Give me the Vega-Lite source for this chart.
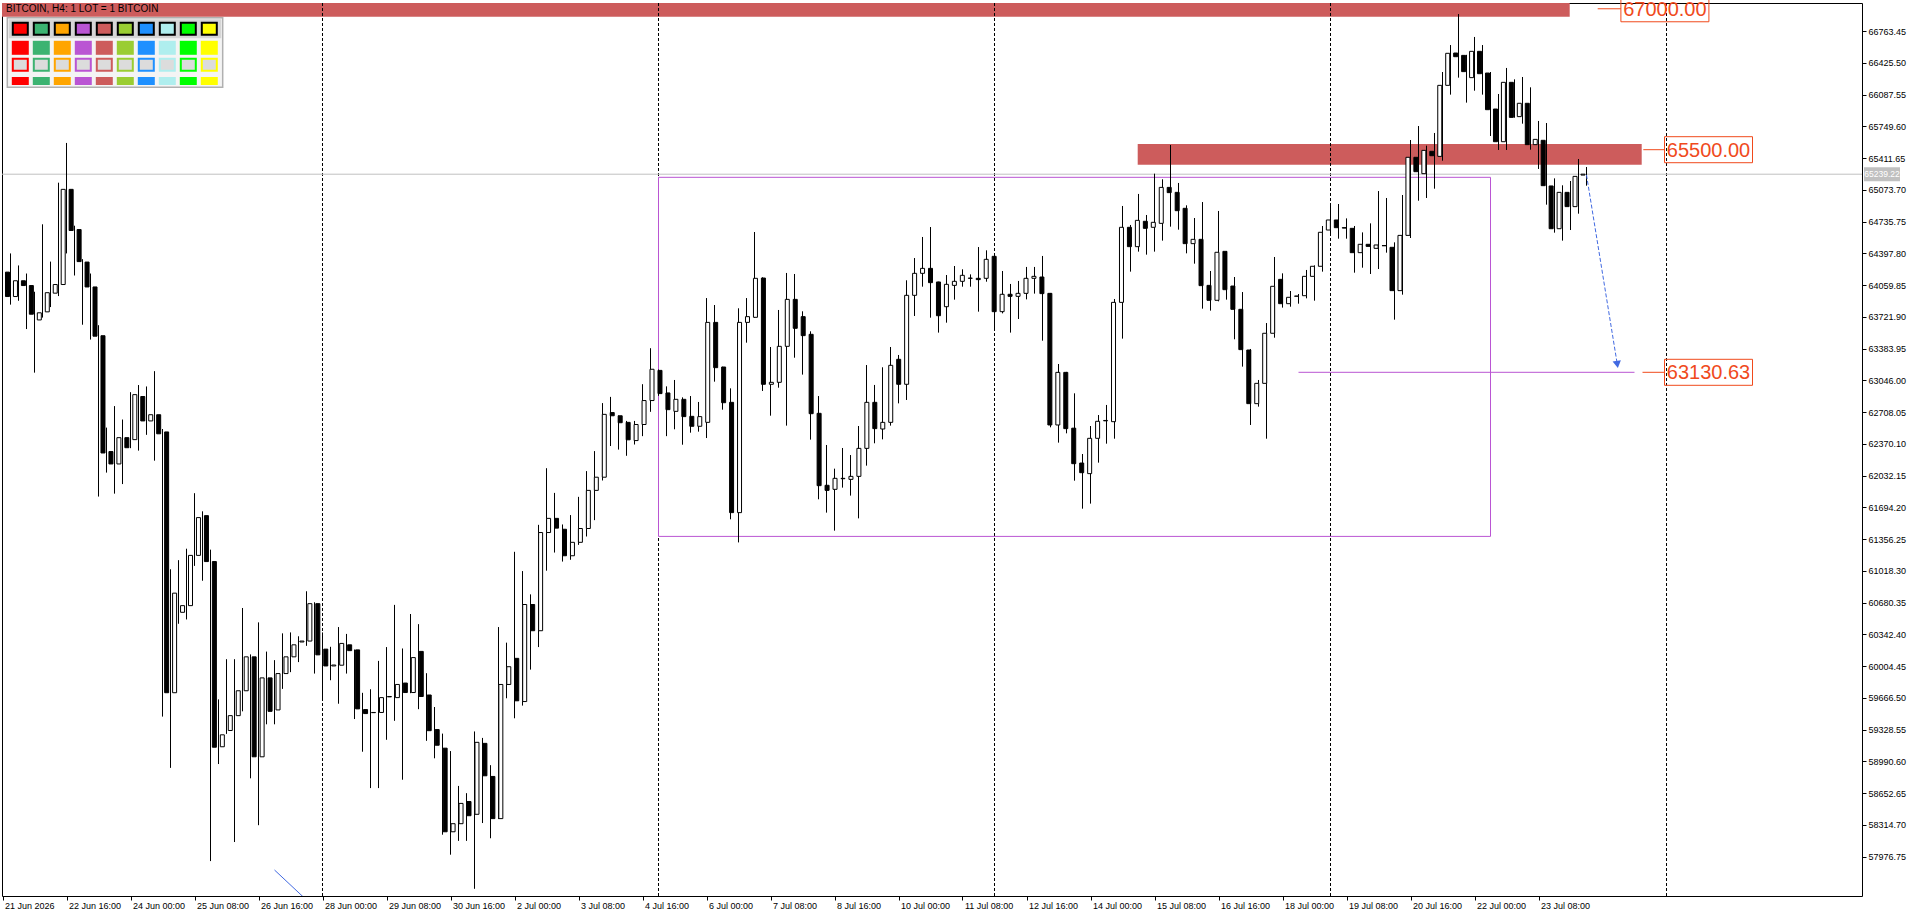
{
  "$schema": "https://vega.github.io/schema/vega-lite/v6.json",
  "width": 1860,
  "height": 893,
  "autosize": {"type": "none"},
  "padding": {"left": 2, "top": 3, "right": 58, "bottom": 19},
  "background": "#ffffff",
  "config": {
    "view": {"stroke": "#000000", "strokeWidth": 1},
    "font": "Liberation Sans"
  },
  "datasets": {
    "candles": [
      {"i":0,"o":64197,"h":64233,"l":63902,"c":63937},
      {"i":1,"o":63937,"h":64396,"l":63851,"c":64105},
      {"i":2,"o":64105,"h":64268,"l":63892,"c":64054},
      {"i":3,"o":64054,"h":64182,"l":63591,"c":63749},
      {"i":4,"o":63688,"h":63988,"l":63127,"c":63764},
      {"i":5,"o":63774,"h":64706,"l":63713,"c":63978},
      {"i":6,"o":63973,"h":64309,"l":63825,"c":64065},
      {"i":7,"o":64065,"h":65149,"l":63942,"c":65078},
      {"i":8,"o":65078,"h":65572,"l":64396,"c":64640},
      {"i":9,"o":64650,"h":64691,"l":64161,"c":64309},
      {"i":10,"o":64304,"h":64335,"l":63637,"c":64039},
      {"i":11,"o":64039,"h":64182,"l":63479,"c":63515},
      {"i":12,"o":63520,"h":63632,"l":61808,"c":62272},
      {"i":13,"o":62287,"h":62542,"l":62063,"c":62155},
      {"i":14,"o":62155,"h":62771,"l":61839,"c":62435},
      {"i":15,"o":62435,"h":62628,"l":61941,"c":62328},
      {"i":16,"o":62414,"h":62919,"l":62323,"c":62893},
      {"i":17,"o":62873,"h":62995,"l":62297,"c":62613},
      {"i":18,"o":62613,"h":62980,"l":62465,"c":62679},
      {"i":19,"o":62679,"h":63143,"l":62190,"c":62476},
      {"i":20,"o":62496,"h":62527,"l":59466,"c":59720},
      {"i":21,"o":59720,"h":61034,"l":58920,"c":60780},
      {"i":22,"o":60576,"h":61131,"l":60454,"c":60647},
      {"i":23,"o":60647,"h":61253,"l":60500,"c":61182},
      {"i":24,"o":61182,"h":61844,"l":61070,"c":61584},
      {"i":25,"o":61605,"h":61651,"l":60912,"c":61116},
      {"i":26,"o":61116,"h":61243,"l":57928,"c":59140},
      {"i":27,"o":59145,"h":59649,"l":58961,"c":59272},
      {"i":28,"o":59318,"h":60077,"l":59282,"c":59476},
      {"i":29,"o":59476,"h":60077,"l":58131,"c":59741},
      {"i":30,"o":59741,"h":60622,"l":59522,"c":60102},
      {"i":31,"o":60102,"h":60128,"l":58809,"c":59038},
      {"i":32,"o":59038,"h":60469,"l":58310,"c":59878},
      {"i":33,"o":59878,"h":60158,"l":59384,"c":59522},
      {"i":34,"o":59537,"h":60067,"l":59384,"c":59924},
      {"i":35,"o":59924,"h":60352,"l":59761,"c":60102},
      {"i":36,"o":60102,"h":60362,"l":59939,"c":60230},
      {"i":37,"o":60260,"h":60321,"l":60046,"c":60270},
      {"i":38,"o":60270,"h":60800,"l":60219,"c":60668},
      {"i":39,"o":60668,"h":60683,"l":59924,"c":60123},
      {"i":40,"o":60184,"h":60362,"l":59634,"c":60005},
      {"i":41,"o":60005,"h":60209,"l":59853,"c":60015},
      {"i":42,"o":60013,"h":60419,"l":59603,"c":60245},
      {"i":43,"o":60230,"h":60346,"l":59924,"c":60168},
      {"i":44,"o":60176,"h":60180,"l":59440,"c":59548},
      {"i":45,"o":59541,"h":59719,"l":59092,"c":59498},
      {"i":46,"o":59510,"h":59757,"l":58705,"c":59508},
      {"i":47,"o":59510,"h":60059,"l":58705,"c":59668},
      {"i":48,"o":59676,"h":60206,"l":59219,"c":59680},
      {"i":49,"o":59668,"h":60655,"l":59421,"c":59808},
      {"i":50,"o":59823,"h":60191,"l":58794,"c":59722},
      {"i":51,"o":59722,"h":60558,"l":59715,"c":60094},
      {"i":52,"o":60160,"h":60450,"l":59545,"c":59680},
      {"i":53,"o":59696,"h":59928,"l":59208,"c":59316},
      {"i":54,"o":59328,"h":59568,"l":59022,"c":59161},
      {"i":55,"o":59130,"h":59285,"l":58209,"c":58240},
      {"i":56,"o":58240,"h":59099,"l":57996,"c":58326},
      {"i":57,"o":58326,"h":58728,"l":58143,"c":58542},
      {"i":58,"o":58562,"h":58651,"l":58143,"c":58411},
      {"i":59,"o":58426,"h":59308,"l":57633,"c":59192},
      {"i":60,"o":59181,"h":59239,"l":58333,"c":58836},
      {"i":61,"o":58829,"h":58949,"l":58171,"c":58380},
      {"i":62,"o":58380,"h":60419,"l":58375,"c":59808},
      {"i":63,"o":59808,"h":60253,"l":59661,"c":59997},
      {"i":64,"o":60086,"h":61220,"l":59448,"c":59634},
      {"i":65,"o":59626,"h":61015,"l":59583,"c":60659},
      {"i":66,"o":60659,"h":60767,"l":59966,"c":60380},
      {"i":67,"o":60380,"h":61507,"l":60206,"c":61425},
      {"i":68,"o":61425,"h":62110,"l":61019,"c":61576},
      {"i":69,"o":61576,"h":61847,"l":61212,"c":61472},
      {"i":70,"o":61460,"h":61511,"l":61116,"c":61178},
      {"i":71,"o":61178,"h":61611,"l":61135,"c":61321},
      {"i":72,"o":61321,"h":61805,"l":61294,"c":61468},
      {"i":73,"o":61468,"h":62079,"l":61383,"c":61874},
      {"i":74,"o":61874,"h":62292,"l":61557,"c":62014},
      {"i":75,"o":62014,"h":62803,"l":61979,"c":62683},
      {"i":76,"o":62702,"h":62869,"l":62346,"c":62668},
      {"i":77,"o":62668,"h":62670,"l":62308,"c":62594},
      {"i":78,"o":62598,"h":62613,"l":62242,"c":62412},
      {"i":79,"o":62404,"h":62613,"l":62362,"c":62575},
      {"i":80,"o":62575,"h":63004,"l":62451,"c":62830},
      {"i":81,"o":62830,"h":63387,"l":62710,"c":63163},
      {"i":82,"o":63151,"h":63160,"l":62880,"c":62904},
      {"i":83,"o":62911,"h":62981,"l":62451,"c":62733},
      {"i":84,"o":62715,"h":63049,"l":62524,"c":62843},
      {"i":85,"o":62843,"h":62864,"l":62360,"c":62659},
      {"i":86,"o":62662,"h":62878,"l":62488,"c":62556},
      {"i":87,"o":62556,"h":62815,"l":62499,"c":62659},
      {"i":88,"o":62598,"h":63921,"l":62431,"c":63662},
      {"i":89,"o":63662,"h":63847,"l":63031,"c":63180},
      {"i":90,"o":63187,"h":63190,"l":62733,"c":62807},
      {"i":91,"o":62811,"h":62960,"l":61566,"c":61637},
      {"i":92,"o":61637,"h":63812,"l":61320,"c":63662},
      {"i":93,"o":63662,"h":63921,"l":63446,"c":63723},
      {"i":94,"o":63716,"h":64624,"l":63710,"c":64131},
      {"i":95,"o":64134,"h":64142,"l":62932,"c":63003},
      {"i":96,"o":63003,"h":63400,"l":62669,"c":63024},
      {"i":97,"o":63024,"h":63794,"l":62967,"c":63407},
      {"i":98,"o":63407,"h":64188,"l":62563,"c":63907},
      {"i":99,"o":63907,"h":64177,"l":63286,"c":63599},
      {"i":100,"o":63723,"h":63780,"l":63106,"c":63521},
      {"i":101,"o":63535,"h":63567,"l":62414,"c":62690},
      {"i":102,"o":62694,"h":62878,"l":61779,"c":61924},
      {"i":103,"o":61928,"h":62357,"l":61637,"c":61874},
      {"i":104,"o":61885,"h":62105,"l":61445,"c":62002},
      {"i":105,"o":61998,"h":62325,"l":61903,"c":62002},
      {"i":106,"o":61991,"h":62250,"l":61818,"c":62023},
      {"i":107,"o":62023,"h":62559,"l":61576,"c":62321},
      {"i":108,"o":62321,"h":63208,"l":62137,"c":62811},
      {"i":109,"o":62811,"h":62996,"l":62375,"c":62531},
      {"i":110,"o":62527,"h":63184,"l":62417,"c":62598},
      {"i":111,"o":62598,"h":63400,"l":62563,"c":63205},
      {"i":112,"o":63269,"h":63315,"l":62800,"c":63003},
      {"i":113,"o":63003,"h":64110,"l":62836,"c":63950},
      {"i":114,"o":63950,"h":64347,"l":63730,"c":64184},
      {"i":115,"o":64184,"h":64571,"l":64042,"c":64237},
      {"i":116,"o":64237,"h":64677,"l":63712,"c":64085},
      {"i":117,"o":64092,"h":64095,"l":63553,"c":63733},
      {"i":118,"o":63829,"h":64166,"l":63659,"c":64067},
      {"i":119,"o":64056,"h":64262,"l":63904,"c":64099},
      {"i":120,"o":64099,"h":64227,"l":64042,"c":64163},
      {"i":121,"o":64131,"h":64173,"l":64042,"c":64133},
      {"i":122,"o":64131,"h":64464,"l":63776,"c":64117},
      {"i":123,"o":64131,"h":64429,"l":64095,"c":64333},
      {"i":124,"o":64365,"h":64370,"l":63599,"c":63776},
      {"i":125,"o":63776,"h":64209,"l":63758,"c":63961},
      {"i":126,"o":63961,"h":64071,"l":63553,"c":63939},
      {"i":127,"o":63939,"h":64103,"l":63698,"c":63971},
      {"i":128,"o":63971,"h":64252,"l":63907,"c":64131},
      {"i":129,"o":64131,"h":64252,"l":63968,"c":64152},
      {"i":130,"o":64145,"h":64369,"l":63467,"c":63968},
      {"i":131,"o":63971,"h":63975,"l":62545,"c":62570},
      {"i":132,"o":62570,"h":63219,"l":62382,"c":63130},
      {"i":133,"o":63130,"h":63135,"l":62481,"c":62531},
      {"i":134,"o":62536,"h":62907,"l":61977,"c":62158},
      {"i":135,"o":62165,"h":62261,"l":61679,"c":62062},
      {"i":136,"o":62052,"h":62559,"l":61733,"c":62428},
      {"i":137,"o":62428,"h":62676,"l":62169,"c":62609},
      {"i":138,"o":62614,"h":62783,"l":62371,"c":62618},
      {"i":139,"o":62605,"h":63911,"l":62424,"c":63875},
      {"i":140,"o":63875,"h":64901,"l":63489,"c":64674},
      {"i":141,"o":64674,"h":64699,"l":64202,"c":64468},
      {"i":142,"o":64468,"h":65029,"l":64415,"c":64748},
      {"i":143,"o":64738,"h":64805,"l":64383,"c":64663},
      {"i":144,"o":64674,"h":65245,"l":64415,"c":64727},
      {"i":145,"o":64716,"h":65185,"l":64532,"c":65099},
      {"i":146,"o":65099,"h":65550,"l":64681,"c":65043},
      {"i":147,"o":65046,"h":65146,"l":64649,"c":64851},
      {"i":148,"o":64876,"h":64908,"l":64397,"c":64500},
      {"i":149,"o":64500,"h":64773,"l":64287,"c":64546},
      {"i":150,"o":64546,"h":64943,"l":63808,"c":64053},
      {"i":151,"o":64056,"h":64209,"l":63787,"c":63897},
      {"i":152,"o":63897,"h":64848,"l":63886,"c":64408},
      {"i":153,"o":64418,"h":64420,"l":63904,"c":64010},
      {"i":154,"o":64049,"h":64145,"l":63482,"c":63801},
      {"i":155,"o":63801,"h":63985,"l":63191,"c":63372},
      {"i":156,"o":63368,"h":63379,"l":62570,"c":62797},
      {"i":157,"o":62797,"h":63049,"l":62765,"c":63013},
      {"i":158,"o":63013,"h":63655,"l":62424,"c":63546},
      {"i":159,"o":63546,"h":64358,"l":63499,"c":64046},
      {"i":160,"o":64120,"h":64184,"l":63819,"c":63861},
      {"i":161,"o":63861,"h":63996,"l":63829,"c":63929},
      {"i":162,"o":63940,"h":63964,"l":63861,"c":63942},
      {"i":163,"o":63946,"h":64220,"l":63918,"c":64152},
      {"i":164,"o":64152,"h":64269,"l":63893,"c":64259},
      {"i":165,"o":64259,"h":64688,"l":64202,"c":64621},
      {"i":166,"o":64645,"h":64901,"l":64600,"c":64752},
      {"i":167,"o":64752,"h":64922,"l":64553,"c":64670},
      {"i":168,"o":64670,"h":64769,"l":64553,"c":64666},
      {"i":169,"o":64663,"h":64688,"l":64191,"c":64404},
      {"i":170,"o":64404,"h":64620,"l":64244,"c":64493},
      {"i":171,"o":64493,"h":64716,"l":64177,"c":64471},
      {"i":172,"o":64450,"h":65060,"l":64230,"c":64486},
      {"i":173,"o":64478,"h":64986,"l":64404,"c":64479},
      {"i":174,"o":64461,"h":64514,"l":63691,"c":64000},
      {"i":175,"o":64000,"h":65018,"l":63957,"c":64588},
      {"i":176,"o":64588,"h":65603,"l":64560,"c":65419},
      {"i":177,"o":65419,"h":65752,"l":64957,"c":65266},
      {"i":178,"o":65245,"h":65543,"l":64986,"c":65493},
      {"i":179,"o":65483,"h":65678,"l":65085,"c":65436},
      {"i":180,"o":65429,"h":66327,"l":65383,"c":66185},
      {"i":181,"o":66185,"h":66614,"l":66086,"c":66526},
      {"i":182,"o":66529,"h":66944,"l":66267,"c":66490},
      {"i":183,"o":66504,"h":66510,"l":66001,"c":66331},
      {"i":184,"o":66267,"h":66700,"l":66128,"c":66547},
      {"i":185,"o":66547,"h":66614,"l":66086,"c":66309},
      {"i":186,"o":66316,"h":66327,"l":65646,"c":65926},
      {"i":187,"o":65933,"h":66093,"l":65497,"c":65585},
      {"i":188,"o":65585,"h":66370,"l":65497,"c":66217},
      {"i":189,"o":66217,"h":66249,"l":65840,"c":65844},
      {"i":190,"o":65852,"h":66274,"l":65777,"c":65994},
      {"i":191,"o":65994,"h":66164,"l":65500,"c":65554},
      {"i":192,"o":65554,"h":65806,"l":65295,"c":65610},
      {"i":193,"o":65600,"h":65784,"l":64915,"c":65117},
      {"i":194,"o":65114,"h":65195,"l":64617,"c":64659},
      {"i":195,"o":64659,"h":65121,"l":64532,"c":65046},
      {"i":196,"o":65046,"h":65167,"l":64645,"c":64894},
      {"i":197,"o":64894,"h":65401,"l":64819,"c":65216},
      {"i":198,"o":65230,"h":65316,"l":65117,"c":65239.22}
    ],
    "zones": [
      {"kind":"band","i":-0.0625,"i2":195.9,"lo":66916,"hi":67061.5},
      {"kind":"band","i":141.9,"i2":204.9,"lo":65340,"hi":65561},
      {"kind":"box","i":82,"i2":186,"lo":61384,"hi":65206}
    ],
    "separators": [{"i":40},{"i":82},{"i":124},{"i":166},{"i":208}],
    "lines": [
      {"kind":"target","i":162,"i2":204,"p":63130.63,"p2":63130.63},
      {"kind":"arrow","i":198.0,"i2":201.85,"p":65231,"p2":63215},
      {"kind":"trend","i":34.0,"i2":37.8,"p":57833,"p2":57530}
    ],
    "levels": [
      {"label":"67000.00","p":67000,"a":199.4,"b":202.3,"c":207.8},
      {"label":"65500.00","p":65500,"a":205.1,"b":207.8,"c":213.25},
      {"label":"63130.63","p":63130.63,"a":205.0,"b":207.7,"c":213.25}
    ],
    "last": [{"p":65239.22,"label":"65239.22"}],
    "caption": [{"text":"BITCOIN, H4:  1 LOT = 1 BITCOIN"}],
    "palette": [
      {"k":0,"name":"Red"},
      {"k":1,"name":"MediumSeaGreen"},
      {"k":2,"name":"Orange"},
      {"k":3,"name":"MediumOrchid"},
      {"k":4,"name":"IndianRed"},
      {"k":5,"name":"YellowGreen"},
      {"k":6,"name":"DodgerBlue"},
      {"k":7,"name":"PaleTurquoise"},
      {"k":8,"name":"Lime"},
      {"k":9,"name":"Yellow"}
    ]
  },
  "layer": [
    {
      "data": {"name": "zones"},
      "transform": [{"filter": "datum.kind == 'band'"}],
      "mark": {"type": "rect", "fill": "#cd5c5c"},
      "encoding": {
        "x": {"field": "i", "type": "quantitative", "scale": {"domain": [-0.0625, 232.4375], "nice": false, "zero": false}, "axis": null},
        "x2": {"field": "i2"},
        "y": {"field": "lo", "type": "quantitative", "scale": {"domain": [57556.4, 67061.5], "nice": false, "zero": false}, "axis": null},
        "y2": {"field": "hi"}
      }
    },
    {
      "data": {"name": "separators"},
      "mark": {"type": "rule", "color": "#000000", "strokeWidth": 1, "strokeDash": [3, 2]},
      "encoding": {
        "x": {"field": "i", "type": "quantitative", "scale": {"domain": [-0.0625, 232.4375], "nice": false, "zero": false}, "axis": null}
      }
    },
    {
      "data": {"name": "last"},
      "mark": {"type": "rule", "color": "#c0c0c0", "strokeWidth": 1},
      "encoding": {
        "y": {"field": "p", "type": "quantitative", "scale": {"domain": [57556.4, 67061.5], "nice": false, "zero": false}, "axis": null}
      }
    },
    {
      "data": {"name": "zones"},
      "transform": [{"filter": "datum.kind == 'box'"}],
      "mark": {"type": "rect", "fill": null, "fillOpacity": 0, "stroke": "#ba55d3", "strokeWidth": 1},
      "encoding": {
        "x": {"field": "i", "type": "quantitative", "scale": {"domain": [-0.0625, 232.4375], "nice": false, "zero": false}, "axis": null},
        "x2": {"field": "i2"},
        "y": {"field": "lo", "type": "quantitative", "scale": {"domain": [57556.4, 67061.5], "nice": false, "zero": false}, "axis": null},
        "y2": {"field": "hi"}
      }
    },
    {
      "data": {"name": "lines"},
      "transform": [{"filter": "datum.kind == 'target'"}],
      "mark": {"type": "rule", "color": "#ba55d3", "strokeWidth": 1},
      "encoding": {
        "x": {"field": "i", "type": "quantitative", "scale": {"domain": [-0.0625, 232.4375], "nice": false, "zero": false}, "axis": null},
        "x2": {"field": "i2"},
        "y": {"field": "p", "type": "quantitative", "scale": {"domain": [57556.4, 67061.5], "nice": false, "zero": false}, "axis": null},
        "y2": {"field": "p2"}
      }
    },
    {
      "data": {"name": "lines"},
      "transform": [{"filter": "datum.kind == 'trend'"}],
      "mark": {"type": "rule", "color": "#4169e1", "strokeWidth": 1, "clip": true},
      "encoding": {
        "x": {"field": "i", "type": "quantitative", "scale": {"domain": [-0.0625, 232.4375], "nice": false, "zero": false}, "axis": null},
        "x2": {"field": "i2"},
        "y": {"field": "p", "type": "quantitative", "scale": {"domain": [57556.4, 67061.5], "nice": false, "zero": false}, "axis": null},
        "y2": {"field": "p2"}
      }
    },
    {
      "data": {"name": "candles"},
      "mark": {"type": "rule", "color": "#000000", "strokeWidth": 1},
      "encoding": {
        "x": {
          "field": "i",
          "type": "quantitative",
          "scale": {"domain": [-0.0625, 232.4375], "nice": false, "zero": false},
          "axis": {
            "title": null,
            "orient": "bottom",
            "values": [0, 8, 16, 24, 32, 40, 48, 56, 64, 72, 80, 88, 96, 104, 112, 120, 128, 136, 144, 152, 160, 168, 176, 184, 192],
            "labelExpr": "['21 Jun 2026','22 Jun 16:00','24 Jun 00:00','25 Jun 08:00','26 Jun 16:00','28 Jun 00:00','29 Jun 08:00','30 Jun 16:00','2 Jul 00:00','3 Jul 08:00','4 Jul 16:00','6 Jul 00:00','7 Jul 08:00','8 Jul 16:00','10 Jul 00:00','11 Jul 08:00','12 Jul 16:00','14 Jul 00:00','15 Jul 08:00','16 Jul 16:00','18 Jul 00:00','19 Jul 08:00','20 Jul 16:00','22 Jul 00:00','23 Jul 08:00'][round(datum.value / 8)]",
            "grid": false,
            "domain": false,
            "ticks": true,
            "tickSize": 4,
            "tickColor": "#000000",
            "labelAlign": "left",
            "labelBaseline": "top",
            "labelOffset": 2,
            "labelPadding": 1,
            "labelFont": "Liberation Sans",
            "labelFontSize": 9,
            "labelColor": "#000000",
            "labelOverlap": false,
            "labelFlush": false,
            "labelBound": false
          }
        },
        "y": {
          "field": "l",
          "type": "quantitative",
          "scale": {"domain": [57556.4, 67061.5], "nice": false, "zero": false},
          "axis": {
            "title": null,
            "orient": "right",
            "values": [57976.75, 58314.70, 58652.65, 58990.60, 59328.55, 59666.50, 60004.45, 60342.40, 60680.35, 61018.30, 61356.25, 61694.20, 62032.15, 62370.10, 62708.05, 63046.00, 63383.95, 63721.90, 64059.85, 64397.80, 64735.75, 65073.70, 65411.65, 65749.60, 66087.55, 66425.50, 66763.45],
            "format": ".2f",
            "grid": false,
            "domain": false,
            "tickSize": 4,
            "tickColor": "#000000",
            "labelPadding": 2,
            "labelFont": "Liberation Sans",
            "labelFontSize": 9,
            "labelColor": "#000000",
            "labelOverlap": false,
            "labelFlush": false,
            "labelBound": false
          }
        },
        "y2": {"field": "h"}
      }
    },
    {
      "data": {"name": "candles"},
      "mark": {"type": "bar", "size": 4, "stroke": "#000000", "strokeWidth": 1},
      "encoding": {
        "x": {"field": "i", "type": "quantitative", "scale": {"domain": [-0.0625, 232.4375], "nice": false, "zero": false}, "axis": null},
        "y": {"field": "o", "type": "quantitative", "scale": {"domain": [57556.4, 67061.5], "nice": false, "zero": false}, "axis": null},
        "y2": {"field": "c"},
        "fill": {"condition": {"test": "datum.c >= datum.o", "value": "#ffffff"}, "value": "#000000"}
      }
    },
    {
      "data": {"name": "lines"},
      "transform": [{"filter": "datum.kind == 'arrow'"}],
      "mark": {"type": "rule", "color": "#4169e1", "strokeWidth": 1, "strokeDash": [4, 2]},
      "encoding": {
        "x": {"field": "i", "type": "quantitative", "scale": {"domain": [-0.0625, 232.4375], "nice": false, "zero": false}, "axis": null},
        "x2": {"field": "i2"},
        "y": {"field": "p", "type": "quantitative", "scale": {"domain": [57556.4, 67061.5], "nice": false, "zero": false}, "axis": null},
        "y2": {"field": "p2"}
      }
    },
    {
      "data": {"name": "lines"},
      "transform": [{"filter": "datum.kind == 'arrow'"}],
      "mark": {"type": "point", "shape": "triangle-down", "filled": true, "color": "#4169e1", "size": 70, "angle": 351, "opacity": 1},
      "encoding": {
        "x": {"field": "i2", "type": "quantitative", "scale": {"domain": [-0.0625, 232.4375], "nice": false, "zero": false}, "axis": null},
        "y": {"field": "p2", "type": "quantitative", "scale": {"domain": [57556.4, 67061.5], "nice": false, "zero": false}, "axis": null}
      }
    },
    {
      "data": {"name": "levels"},
      "mark": {"type": "rule", "color": "#f04a1c", "strokeWidth": 1},
      "encoding": {
        "x": {"field": "a", "type": "quantitative", "scale": {"domain": [-0.0625, 232.4375], "nice": false, "zero": false}, "axis": null},
        "x2": {"field": "b"},
        "y": {"field": "p", "type": "quantitative", "scale": {"domain": [57556.4, 67061.5], "nice": false, "zero": false}, "axis": null}
      }
    },
    {
      "data": {"name": "levels"},
      "mark": {"type": "point", "shape": "M-1,-0.2955H1V0.2955H-1Z", "size": 7744, "filled": false, "fill": null, "stroke": "#f04a1c", "strokeWidth": 1, "opacity": 1},
      "encoding": {
        "x": {"field": "c", "type": "quantitative", "scale": {"domain": [-0.0625, 232.4375], "nice": false, "zero": false}, "axis": null},
        "y": {"field": "p", "type": "quantitative", "scale": {"domain": [57556.4, 67061.5], "nice": false, "zero": false}, "axis": null}
      }
    },
    {
      "data": {"name": "levels"},
      "mark": {"type": "text", "align": "center", "baseline": "middle", "font": "Liberation Sans", "fontSize": 20, "color": "#f04a1c", "dy": 1},
      "encoding": {
        "x": {"field": "c", "type": "quantitative", "scale": {"domain": [-0.0625, 232.4375], "nice": false, "zero": false}, "axis": null},
        "y": {"field": "p", "type": "quantitative", "scale": {"domain": [57556.4, 67061.5], "nice": false, "zero": false}, "axis": null},
        "text": {"field": "label"}
      }
    },
    {
      "data": {"name": "caption"},
      "mark": {"type": "text", "align": "left", "baseline": "middle", "font": "Liberation Sans", "fontSize": 10, "color": "#000000", "dx": 4, "dy": 6},
      "encoding": {
        "x": {"datum": -0.0625, "type": "quantitative", "scale": {"domain": [-0.0625, 232.4375], "nice": false, "zero": false}, "axis": null},
        "y": {"datum": 67061.5, "type": "quantitative", "scale": {"domain": [57556.4, 67061.5], "nice": false, "zero": false}, "axis": null},
        "text": {"field": "text"}
      }
    },
    {
      "data": {"name": "last"},
      "mark": {"type": "point", "shape": "M-1,-0.3889H1V0.3889H-1Z", "size": 1296, "filled": true, "color": "#c0c0c0", "opacity": 1, "xOffset": 20},
      "encoding": {
        "x": {"value": "width"},
        "y": {"field": "p", "type": "quantitative", "scale": {"domain": [57556.4, 67061.5], "nice": false, "zero": false}, "axis": null}
      }
    },
    {
      "data": {"name": "last"},
      "mark": {"type": "text", "align": "center", "baseline": "middle", "font": "Liberation Sans", "fontSize": 8.5, "color": "#ffffff", "xOffset": 20},
      "encoding": {
        "x": {"value": "width"},
        "y": {"field": "p", "type": "quantitative", "scale": {"domain": [57556.4, 67061.5], "nice": false, "zero": false}, "axis": null},
        "text": {"field": "label"}
      }
    },
    {
      "data": {"name": "palette"},
      "transform": [{"filter": "datum.k == 0"}],
      "mark": {"type": "rect", "fill": "#f4f4f4", "stroke": "#b0b0b0", "strokeWidth": 1.5},
      "encoding": {
        "x": {"datum": -0.619, "type": "quantitative", "scale": {"domain": [-0.8714, 87.7], "nice": false, "zero": false}, "axis": null},
        "x2": {"datum": 9.638},
        "y": {"datum": 0.817, "type": "quantitative", "scale": {"domain": [0, 49.611], "reverse": true, "nice": false, "zero": false}, "axis": null},
        "y2": {"datum": 4.683}
      }
    },
    {
      "data": {"name": "palette"},
      "transform": [{"filter": "datum.k == 0"}],
      "mark": {"type": "rect", "fill": "#d6d6d6"},
      "encoding": {
        "x": {"datum": -0.55, "type": "quantitative", "scale": {"domain": [-0.8714, 87.7], "nice": false, "zero": false}, "axis": null},
        "x2": {"datum": 9.57},
        "y": {"datum": 0.906, "type": "quantitative", "scale": {"domain": [0, 49.611], "reverse": true, "nice": false, "zero": false}, "axis": null},
        "y2": {"datum": 1.961}
      }
    },
    {
      "data": {"name": "palette"},
      "mark": {"type": "point", "shape": "M-1,-0.8H1V0.8H-1Z", "size": 225, "filled": true, "stroke": "#000000", "strokeWidth": 2, "opacity": 1},
      "encoding": {
        "x": {"field": "k", "type": "quantitative", "scale": {"domain": [-0.8714, 87.7], "nice": false, "zero": false}, "axis": null},
        "y": {"datum": 1.428, "type": "quantitative", "scale": {"domain": [0, 49.611], "reverse": true, "nice": false, "zero": false}, "axis": null},
        "fill": {"field": "name", "type": "nominal", "legend": null, "scale": {"domain": ["Red","MediumSeaGreen","Orange","MediumOrchid","IndianRed","YellowGreen","DodgerBlue","PaleTurquoise","Lime","Yellow"], "range": ["#ff0000","#3cb371","#ffa500","#ba55d3","#cd5c5c","#9acd32","#1e90ff","#afeeee","#00ff00","#ffff00"]}}
      }
    },
    {
      "data": {"name": "palette"},
      "mark": {"type": "point", "shape": "M-1,-0.8235H1V0.8235H-1Z", "size": 289, "filled": true, "opacity": 1},
      "encoding": {
        "x": {"field": "k", "type": "quantitative", "scale": {"domain": [-0.8714, 87.7], "nice": false, "zero": false}, "axis": null},
        "y": {"datum": 2.489, "type": "quantitative", "scale": {"domain": [0, 49.611], "reverse": true, "nice": false, "zero": false}, "axis": null},
        "fill": {"field": "name", "type": "nominal", "legend": null, "scale": {"domain": ["Red","MediumSeaGreen","Orange","MediumOrchid","IndianRed","YellowGreen","DodgerBlue","PaleTurquoise","Lime","Yellow"], "range": ["#ff0000","#3cb371","#ffa500","#ba55d3","#cd5c5c","#9acd32","#1e90ff","#afeeee","#00ff00","#ffff00"]}}
      }
    },
    {
      "data": {"name": "palette"},
      "mark": {"type": "point", "shape": "M-1,-0.8H1V0.8H-1Z", "size": 225, "filled": true, "fill": "#dcdcdc", "strokeWidth": 2, "opacity": 1},
      "encoding": {
        "x": {"field": "k", "type": "quantitative", "scale": {"domain": [-0.8714, 87.7], "nice": false, "zero": false}, "axis": null},
        "y": {"datum": 3.428, "type": "quantitative", "scale": {"domain": [0, 49.611], "reverse": true, "nice": false, "zero": false}, "axis": null},
        "stroke": {"field": "name", "type": "nominal", "legend": null, "scale": {"domain": ["Red","MediumSeaGreen","Orange","MediumOrchid","IndianRed","YellowGreen","DodgerBlue","PaleTurquoise","Lime","Yellow"], "range": ["#ff0000","#3cb371","#ffa500","#ba55d3","#cd5c5c","#9acd32","#1e90ff","#afeeee","#00ff00","#ffff00"]}}
      }
    },
    {
      "data": {"name": "palette"},
      "mark": {"type": "point", "shape": "M-1,-0.47H1V0.47H-1Z", "size": 289, "filled": true, "opacity": 1},
      "encoding": {
        "x": {"field": "k", "type": "quantitative", "scale": {"domain": [-0.8714, 87.7], "nice": false, "zero": false}, "axis": null},
        "y": {"datum": 4.333, "type": "quantitative", "scale": {"domain": [0, 49.611], "reverse": true, "nice": false, "zero": false}, "axis": null},
        "fill": {"field": "name", "type": "nominal", "legend": null, "scale": {"domain": ["Red","MediumSeaGreen","Orange","MediumOrchid","IndianRed","YellowGreen","DodgerBlue","PaleTurquoise","Lime","Yellow"], "range": ["#ff0000","#3cb371","#ffa500","#ba55d3","#cd5c5c","#9acd32","#1e90ff","#afeeee","#00ff00","#ffff00"]}}
      }
    }
  ],
  "resolve": {"scale": {"x": "independent", "y": "independent", "fill": "independent", "stroke": "independent"}}
}
